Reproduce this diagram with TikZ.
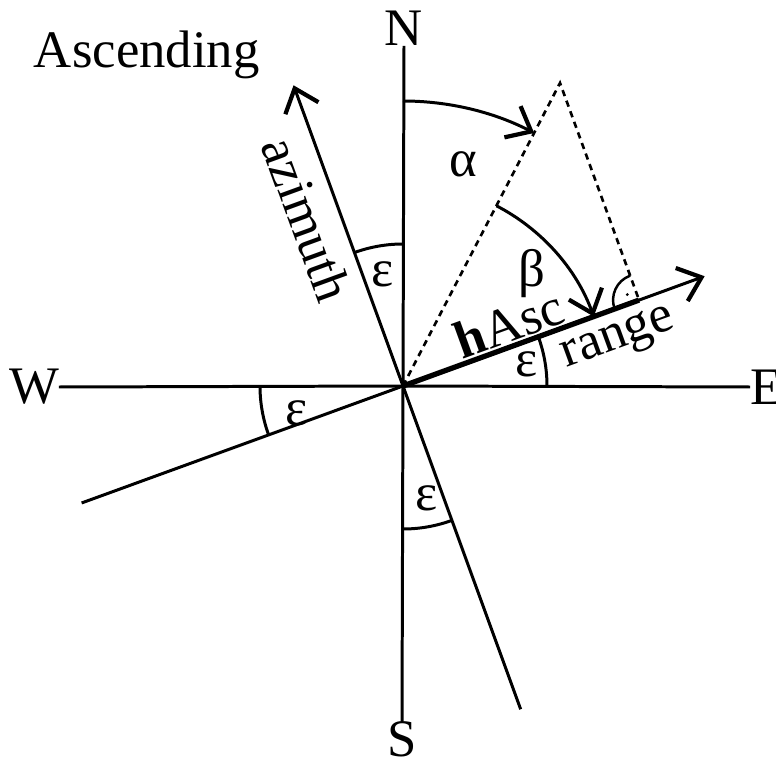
\documentclass[tikz,border=0pt]{standalone}
\usepackage{fontspec}
\setmainfont{Liberation Serif}
\usetikzlibrary{arrows.meta,calc}
\begin{document}
\begin{tikzpicture}[x=0.01cm,y=0.01cm,
  font=\fontsize{15}{18}\selectfont,
  axis/.style={line width=0.85pt},
  arr/.style={line width=0.85pt,-{Straight Barb[length=6pt,width=10pt,line width=1.2pt]}},
  dots/.style={line width=0.75pt,dash pattern=on 1.8pt off 1.4pt},
  lbl/.style={inner sep=0pt,outer sep=0pt},
  txt/.style={inner sep=0.5pt}]
\useasboundingbox (-403,-390) rectangle (373,386);
\coordinate (O) at (0,0);
% compass labels
\node[lbl,anchor=south] (N) at (1,340) {N};
\node[lbl,anchor=north] (S) at (-1,-336) {S};
\node[lbl,anchor=east] (W) at (-344,-1) {W};
\node[lbl,anchor=west] (E) at (347,-1) {E};
\node[lbl,anchor=base west] (asc) at (-369,318) {Ascending};
% axes
\draw[axis] (O) -- (N.south);
\draw[axis] (O) -- (S.north);
\draw[axis] (O) -- (W.east);
\draw[axis] (O) -- (E.west);
% rotated axes
\coordinate (az) at (110:320);
\coordinate (rg) at (20:321);
\coordinate (ll) at (200:342);
\coordinate (lr) at (-70:344);
\draw[arr] (O) -- (az);
\draw[arr] (O) -- (rg);
\draw[axis] (O) -- (ll);
\draw[axis] (O) -- (lr);
% apex and foot
\coordinate (A) at (157,303);
\coordinate (F) at (20:251.2);
\draw[line width=1.5pt] (O) -- (F);
\draw[dots] (O) -- (A) -- (F);
% right angle mark
\draw[line width=0.7pt] ($(F)+(110:26)$) arc[start angle=110,end angle=200,radius=26];
\fill ($(F)+(155:13)$) circle (1.6);
% alpha and beta arcs
\draw[arr] (90:285) arc[start angle=90,end angle=62.6,radius=285];
\draw[arr] (62.6:203) arc[start angle=62.6,end angle=20,radius=203];
% epsilon arcs
\draw[axis] (90:142) arc[start angle=90,end angle=110,radius=142];
\draw[axis] (180:143) arc[start angle=180,end angle=200,radius=143];
\draw[axis] (270:143) arc[start angle=270,end angle=290,radius=143];
\draw[axis] (0:144) arc[start angle=0,end angle=20,radius=144];
% labels
\node[txt] (e1) at (-20,112) {ε};
\node[txt] (e2) at (-106,-27) {ε};
\node[txt] (e3) at (24,-112) {ε};
\node[txt] (e4) at (124,22) {ε};
\node[txt] (al) at (60,222) {α};
\node[txt] (be) at (129,112) {β};
\node[txt,rotate=-70] (azl) at (-96,167) {azimuth};
\node[txt,rotate=20] (rgl) at (216,46) {range};
\node[txt,rotate=20] (hl) at (106,62) {\textbf{h}Asc};
\end{tikzpicture}
\end{document}
